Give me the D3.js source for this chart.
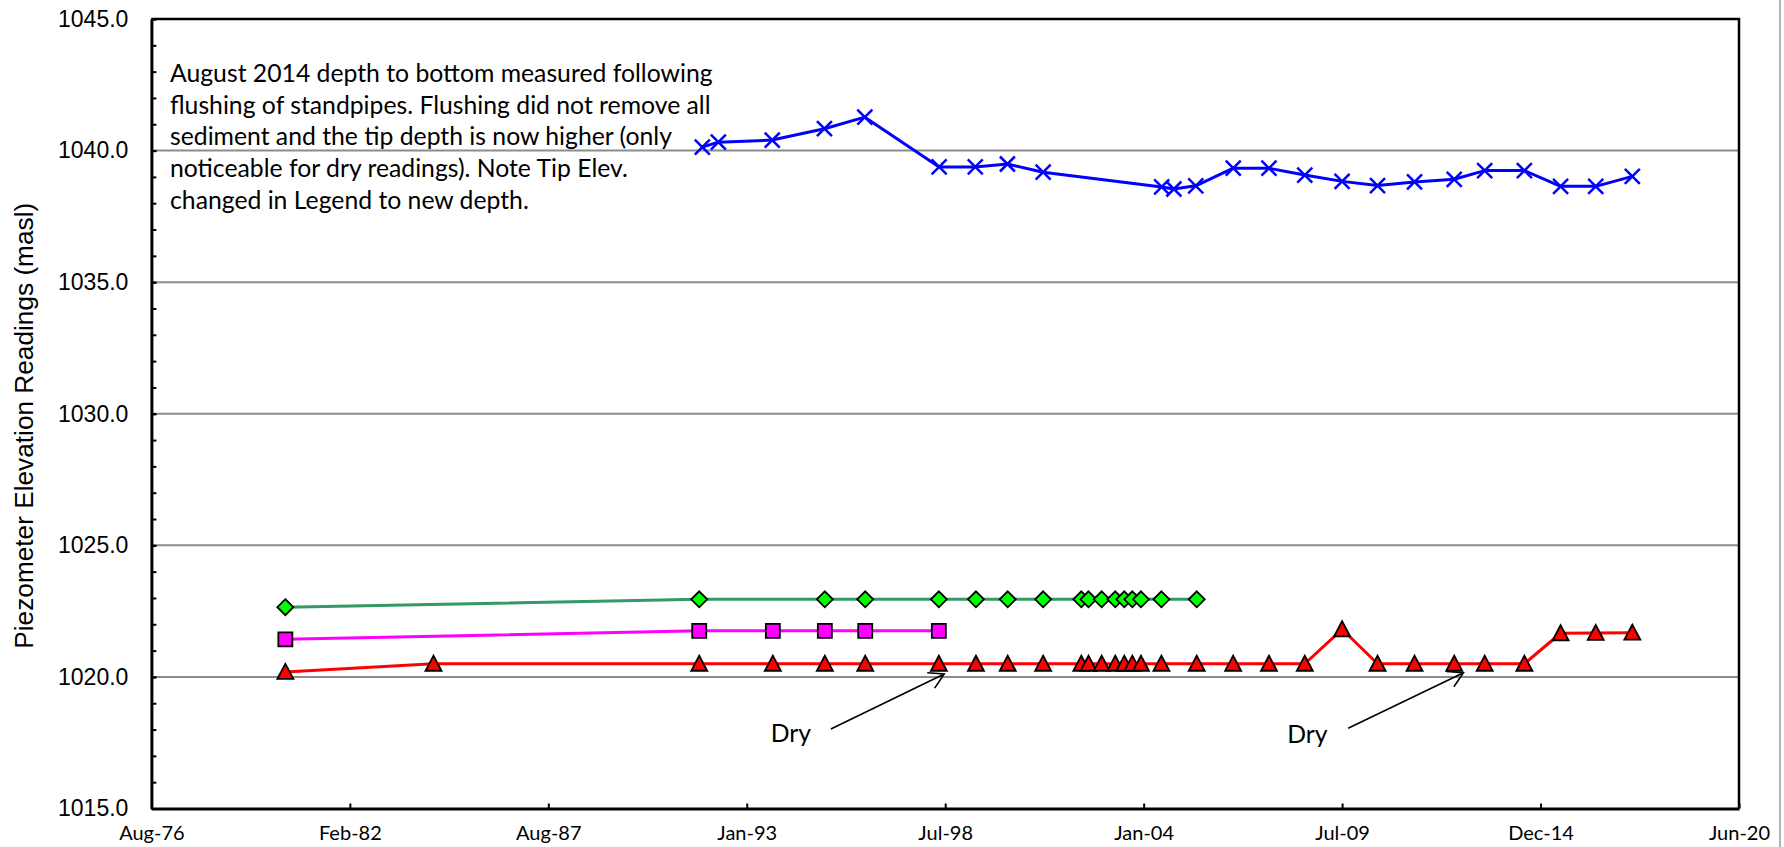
<!DOCTYPE html>
<html>
<head>
<meta charset="utf-8">
<script src="https://cdn.jsdelivr.net/npm/d3@7/dist/d3.min.js"></script>
<style>
  html, body { margin: 0; padding: 0; background: #fff; }
  svg { display: block; }
</style>
</head>
<body>
<svg id="chart" width="1784" height="847"></svg>
<script>
// ---------------- DATA ----------------
const xTickSerials = [28000, 30000, 32000, 34000, 36000, 38000, 40000, 42000, 44000];
const xTickLabels = ["Aug-76", "Feb-82", "Aug-87", "Jan-93", "Jul-98", "Jan-04", "Jul-09", "Dec-14", "Jun-20"];
const yTickValues = [1015, 1020, 1025, 1030, 1035, 1040, 1045];
const yGridValues = [1020, 1025, 1030, 1035, 1040];
const yMinorValues = d3.range(1015, 1046, 1);

const blueDates = ["1991-11-10","1992-04-20","1993-10-15","1995-03-25","1996-05-05","1998-05-24","1999-05-23","2000-04-11","2001-04-06","2004-07-14","2004-11-14","2005-06-22","2006-07-05","2007-06-30","2008-06-25","2009-07-06","2010-06-28","2011-07-06","2012-08-09","2013-06-12","2014-07-17","2015-07-17","2016-07-05","2017-07-09"];
const blueValues = [1040.13,1040.32,1040.40,1040.83,1041.27,1039.38,1039.38,1039.49,1039.18,1038.62,1038.54,1038.66,1039.33,1039.33,1039.07,1038.83,1038.67,1038.81,1038.91,1039.24,1039.24,1038.64,1038.64,1039.02];

const greenDates = ["1980-05-09","1991-10-10","1995-03-29","1996-05-09","1998-05-21","1999-05-30","2000-04-14","2001-04-06","2002-04-26","2002-07-07","2002-11-17","2003-04-03","2003-07-03","2003-09-22","2003-12-18","2004-07-11","2005-07-02"];
const greenValues = [1022.65,1022.95,1022.95,1022.95,1022.95,1022.95,1022.95,1022.95,1022.95,1022.95,1022.95,1022.95,1022.95,1022.95,1022.95,1022.95,1022.95];

const magentaDates = ["1980-05-09","1991-10-10","1993-10-21","1995-03-29","1996-05-09","1998-05-21"];
const magentaValues = [1021.43,1021.75,1021.75,1021.75,1021.75,1021.75];

const redDates = ["1980-05-09","1984-06-10","1991-10-10","1993-10-21","1995-03-29","1996-05-09","1998-05-21","1999-05-30","2000-04-14","2001-04-06","2002-04-26","2002-07-07","2002-11-17","2003-04-03","2003-07-03","2003-09-22","2003-12-18","2004-07-11","2005-07-02","2006-07-04","2007-06-30","2008-06-25","2009-07-06","2010-06-28","2011-07-06","2012-08-09","2013-06-12","2014-07-17","2015-07-17","2016-07-05","2017-07-09"];
const redValues = [1020.19,1020.5,1020.5,1020.5,1020.5,1020.5,1020.5,1020.5,1020.5,1020.5,1020.5,1020.5,1020.5,1020.5,1020.5,1020.5,1020.5,1020.5,1020.5,1020.5,1020.5,1020.5,1021.81,1020.5,1020.5,1020.5,1020.5,1020.5,1021.66,1021.67,1021.68];

const noteLines = [
  "August 2014 depth to bottom measured following",
  "flushing of standpipes. Flushing did not remove all",
  "sediment and the tip depth is now higher (only",
  "noticeable for dry readings). Note Tip Elev.",
  "changed in Legend to new depth."
];
const dryLabels = ["Dry", "Dry"];
const dryTextDates = ["1994-04-21", "2008-07-21"];
const dryTextValues = [1017.53, 1017.5];
const dryFromDates = ["1995-05-29", "2009-09-05"];
const dryFromValues = [1018.02, 1018.05];
const dryToDates = ["1998-07-14", "2012-11-10"];
const dryToValues = [1020.11, 1020.16];

const yTitle = "Piezometer Elevation Readings (masl)";

// ---------------- HELPERS ----------------
const excelEpoch = Date.UTC(1899, 11, 30);
const serialToDate = s => new Date(excelEpoch + s * 864e5);
const parse = d3.utcParse("%Y-%m-%d");

const svg = d3.select("#chart");
const W = 1784, H = 847;
const L = 151.4, R = 1739, T = 19, B = 808.5;
const labelFont = "Lato, 'Open Sans', sans-serif";
const noteFont = "Lato, 'Open Sans', sans-serif";
const arialFont = "'Liberation Sans', Arial, sans-serif";

function fitSize(family, text, base, targetWidth) {
  const t = svg.append("text").attr("font-family", family).attr("font-size", base).text(text);
  t.node().getComputedTextLength(); // warm-up
  const w = t.node().getComputedTextLength();
  t.remove();
  return w > 0 ? base * targetWidth / w : base;
}

function draw() {
  svg.selectAll("*").remove();
  svg.append("rect").attr("width", W).attr("height", H).attr("fill", "#fff");

  const x = d3.scaleUtc().domain([serialToDate(xTickSerials[0]), serialToDate(xTickSerials[xTickSerials.length - 1])]).range([L, R]);
  const y = d3.scaleLinear().domain([1015, 1045]).range([B, T]);

  // outer chart-area edge on the right
  svg.append("line").attr("x1", 1780).attr("x2", 1780).attr("y1", 0).attr("y2", H)
    .attr("stroke", "#9a9a9a").attr("stroke-width", 1.5);

  // gridlines
  svg.append("g").selectAll("line").data(yGridValues).join("line")
    .attr("x1", L).attr("x2", R)
    .attr("y1", d => y(d)).attr("y2", d => y(d))
    .attr("stroke", "#8c8c8c").attr("stroke-width", 2);

  // top & right border
  svg.append("path")
    .attr("d", `M${L},${T}H${R}V${B}`)
    .attr("fill", "none").attr("stroke", "#000").attr("stroke-width", 2.5);

  // y axis minor ticks
  const yMinor = svg.append("g").attr("transform", `translate(${L},0)`)
    .call(d3.axisLeft(y).tickValues(yMinorValues).tickSize(-5).tickFormat(""));
  yMinor.select(".domain").remove();
  yMinor.selectAll("line").attr("stroke", "#000").attr("stroke-width", 2);

  // y axis
  const yAxis = svg.append("g").attr("transform", `translate(${L},0)`)
    .call(d3.axisLeft(y).tickValues(yTickValues).tickSize(-5).tickSizeOuter(0).tickPadding(23).tickFormat(d3.format(".1f")));
  yAxis.select(".domain").attr("stroke", "#000").attr("stroke-width", 3);
  yAxis.selectAll("line").attr("stroke", "#000").attr("stroke-width", 2);
  yAxis.selectAll("text").attr("font-family", arialFont)
    .attr("font-size", 23).attr("fill", "#000");

  // x axis
  const xAxis = svg.append("g").attr("transform", `translate(0,${B})`)
    .call(d3.axisBottom(x).tickValues(xTickSerials.map(serialToDate)).tickSize(-5).tickSizeOuter(0).tickPadding(17)
      .tickFormat((d, i) => xTickLabels[i]));
  xAxis.select(".domain").attr("stroke", "#000").attr("stroke-width", 3);
  xAxis.selectAll("line").attr("stroke", "#000").attr("stroke-width", 2);
  xAxis.selectAll("text")
    .attr("font-family", null).attr("font-size", null)
    .style("font-family", labelFont).style("font-size", "20px").attr("fill", "#000");

  // y title
  const titleSize = Math.max(23, Math.min(27, fitSize(arialFont, yTitle, 24, 446)));
  svg.append("text")
    .attr("transform", `translate(33,${(T + B) / 2 + 12}) rotate(-90)`)
    .attr("text-anchor", "middle")
    .attr("font-family", arialFont)
    .attr("font-size", titleSize).attr("fill", "#000")
    .text(yTitle);

  // ---------------- SERIES ----------------
  const markers = {
    x: "M-7.5,-7.5L7.5,7.5M-7.5,7.5L7.5,-7.5",
    diamond: "M0,-8L8,0L0,8L-8,0Z",
    square: "M-7,-7H7V7H-7Z",
    triangle: "M0,-8L8,7L-8,7Z"
  };
  const series = [
    { dates: greenDates, values: greenValues, line: "#339966", fill: "#00ff00", marker: "diamond" },
    { dates: magentaDates, values: magentaValues, line: "#ff00ff", fill: "#ff00ff", marker: "square" },
    { dates: redDates, values: redValues, line: "#ff0000", fill: "#ff0000", marker: "triangle" },
    { dates: blueDates, values: blueValues, line: "#0000ff", fill: "none", marker: "x" }
  ];
  const lineGen = d3.line().x(d => x(d.date)).y(d => y(d.value));

  series.forEach(s => {
    const pts = s.dates.map((d, i) => ({ date: parse(d), value: s.values[i] }));
    svg.append("path").datum(pts)
      .attr("d", lineGen).attr("fill", "none")
      .attr("stroke", s.line).attr("stroke-width", 3).attr("stroke-linejoin", "round");
    svg.append("g").selectAll("path").data(pts).join("path")
      .attr("transform", d => `translate(${x(d.date)},${y(d.value)})`)
      .attr("d", markers[s.marker])
      .attr("fill", s.fill)
      .attr("stroke", s.marker === "x" ? s.line : "#000")
      .attr("stroke-width", s.marker === "x" ? 2.5 : 1.8);
  });

  // ---------------- ANNOTATIONS ----------------
  const noteSize = Math.max(23, Math.min(27, fitSize(noteFont, noteLines[0], 26, 543)));

  svg.append("g").selectAll("text").data(noteLines).join("text")
    .attr("x", 170).attr("y", (d, i) => 82 + i * 31.7)
    .attr("font-family", noteFont).attr("font-size", noteSize).attr("fill", "#000")
    .text(d => d);

  dryLabels.forEach((lab, i) => {
    svg.append("text")
      .attr("x", x(parse(dryTextDates[i]))).attr("y", y(dryTextValues[i]))
      .attr("text-anchor", "middle")
      .attr("font-family", noteFont).attr("font-size", noteSize).attr("fill", "#000")
      .text(lab);
    const x1 = x(parse(dryFromDates[i])), y1 = y(dryFromValues[i]);
    const x2 = x(parse(dryToDates[i])), y2 = y(dryToValues[i]);
    const ang = Math.atan2(y1 - y2, x1 - x2);
    const len = 17, spread = 30 * Math.PI / 180;
    const w1 = [x2 + len * Math.cos(ang + spread), y2 + len * Math.sin(ang + spread)];
    const w2 = [x2 + len * Math.cos(ang - spread), y2 + len * Math.sin(ang - spread)];
    svg.append("path")
      .attr("d", `M${x1},${y1}L${x2},${y2}M${w1[0]},${w1[1]}L${x2},${y2}L${w2[0]},${w2[1]}`)
      .attr("fill", "none").attr("stroke", "#000").attr("stroke-width", 1.6);
  });
}

draw();
if (document.fonts && document.fonts.load) {
  Promise.all([
    document.fonts.load("20px Lato"),
    document.fonts.load("20px 'Liberation Sans'")
  ]).then(draw).catch(() => {});
}
</script>
</body>
</html>
